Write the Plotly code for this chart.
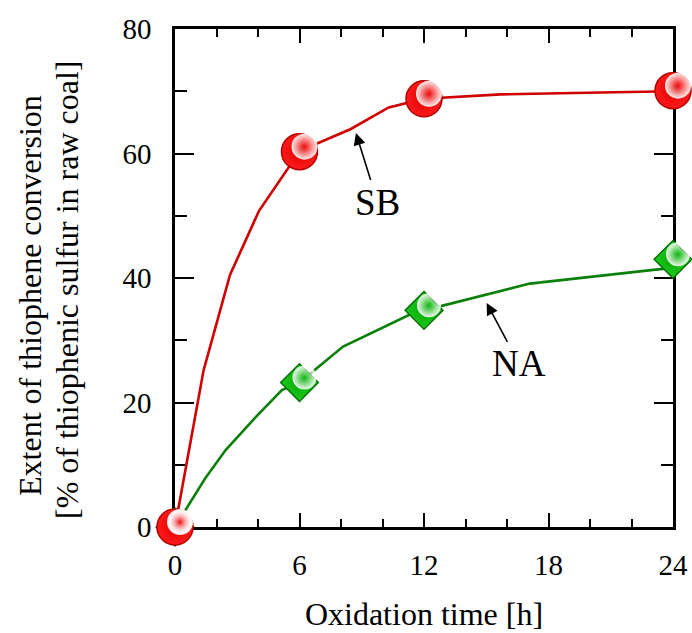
import plotly.graph_objects as go

# Measured points
time_h = [0, 6, 12, 24]
sb_conv = [0, 60.3, 68.8, 70.1]
na_conv = [0, 23.2, 34.8, 43.0]

# Fitted curves through the measurements
sb_fit_t = [0, 1.38, 2.65, 4.05, 6, 6.85, 8.45, 10.3, 12, 15.7, 20.5, 24]
sb_fit_y = [0, 25.2, 40.5, 50.8, 60.3, 61.6, 63.9, 67.4, 68.8, 69.5, 69.8, 70.0]
na_fit_t = [0, 1.45, 2.45, 3.9, 5.15, 6, 8.1, 11.3, 12, 17.1, 23.05, 24]
na_fit_y = [0, 7.8, 12.4, 17.7, 22.0, 23.2, 29.0, 34.1, 34.8, 39.1, 41.3, 41.6]

x_ticks = [0, 6, 12, 18, 24]
y_ticks = [0, 20, 40, 60, 80]

W, H = 692, 633
ML, MT, MB = 175, 19, 106
PW = 508          # pixel extent of the plotting area incl. highlight offset
AX = 498          # pixel length of the drawn axes
SH = 5            # highlight offset in pixels

FONT = "Liberation Serif"
RED_LINE = "#d00000"
GREEN_LINE = "#0a800a"

fig = go.Figure()

# NA curve + markers
fig.add_trace(go.Scatter(x=na_fit_t, y=na_fit_y, mode="lines",
                         line=dict(color=GREEN_LINE, width=2.6),
                         hoverinfo="skip", cliponaxis=False))
fig.add_trace(go.Scatter(x=time_h, y=na_conv, mode="markers", cliponaxis=False,
                         marker=dict(symbol="diamond", size=29, color="#1ccc1c",
                                     gradient=dict(type="radial", color="#08a808"),
                                     line=dict(color="#067006", width=1.5))))
# SB curve + markers
fig.add_trace(go.Scatter(x=sb_fit_t, y=sb_fit_y, mode="lines",
                         line=dict(color=RED_LINE, width=2.6),
                         hoverinfo="skip", cliponaxis=False))
fig.add_trace(go.Scatter(x=time_h, y=sb_conv, mode="markers", cliponaxis=False,
                         marker=dict(symbol="circle", size=36, color="#ff1a1a",
                                     gradient=dict(type="radial", color="#dc0000"),
                                     line=dict(color="#b80000", width=1.5))))

# Specular highlights, drawn on a slightly shifted overlay subplot
for yy, sz in ((na_conv, 24), (sb_conv, 26)):
    fig.add_trace(go.Scatter(x=time_h, y=yy, mode="markers", cliponaxis=False,
                             xaxis="x2", yaxis="y2", hoverinfo="skip",
                             marker=dict(symbol="circle", size=sz,
                                         color="rgba(255,255,255,0.92)",
                                         gradient=dict(type="radial",
                                                       color="rgba(255,255,255,0)"),
                                         line=dict(width=0))))

axis_common = dict(showline=True, linecolor="black", linewidth=2.6, mirror="ticks",
                   ticks="inside", tickcolor="black", tickwidth=2.4,
                   showgrid=False, zeroline=False, layer="below traces",
                   automargin=False,
                   tickfont=dict(family=FONT, size=29, color="black"))

fig.update_layout(
    template="none",
    width=W, height=H,
    margin=dict(l=ML, r=W - ML - PW, t=MT, b=MB, pad=0),
    paper_bgcolor="white", plot_bgcolor="rgba(0,0,0,0)",
    showlegend=False,
    xaxis=dict(axis_common, range=[0, 24], domain=[0, AX / PW],
               tickvals=x_ticks, ticklen=14, ticklabelstandoff=10,
               minor=dict(dtick=2, ticklen=8, ticks="inside", tickcolor="black",
                          tickwidth=2.4, showgrid=False),
               title=dict(text="Oxidation time [h]", standoff=24,
                          font=dict(family=FONT, size=32, color="black"))),
    yaxis=dict(axis_common, range=[0, 80], domain=[0, AX / PW],
               tickvals=y_ticks, ticklen=19, ticklabelstandoff=15,
               minor=dict(dtick=10, ticklen=12, ticks="inside", tickcolor="black",
                          tickwidth=2.4, showgrid=False)),
    xaxis2=dict(range=[0, 24], domain=[SH / PW, (AX + SH) / PW], anchor="y2",
                visible=False, automargin=False),
    yaxis2=dict(range=[0, 80], domain=[SH / PW, (AX + SH) / PW], anchor="x2",
                visible=False, automargin=False),
)

# Y-axis title on two lines
fig.add_annotation(text="Extent of thiophene conversion", textangle=-90,
                   xref="paper", yref="paper", x=(30 - ML) / PW, y=(527 - 296) / PW,
                   xanchor="center", yanchor="middle", showarrow=False,
                   font=dict(family=FONT, size=32, color="black"))
fig.add_annotation(text="[% of thiophenic sulfur in raw coal]", textangle=-90,
                   xref="paper", yref="paper", x=(67 - ML) / PW, y=(527 - 290) / PW,
                   xanchor="center", yanchor="middle", showarrow=False,
                   font=dict(family=FONT, size=32, color="black"))

# Series labels with arrows
for label, tip, txt in (("SB", (8.72, 63.3), (9.76, 52.2)),
                        ("NA", (15.02, 36.0), (16.58, 26.2))):
    fig.add_annotation(text=label, x=tip[0], y=tip[1], ax=txt[0], ay=txt[1],
                       xref="x", yref="y", axref="x", ayref="y",
                       showarrow=True, arrowhead=2, arrowsize=1.5, arrowwidth=1.6,
                       arrowcolor="black", standoff=0,
                       font=dict(family=FONT, size=37, color="black"))

fig.write_html("out.html")
